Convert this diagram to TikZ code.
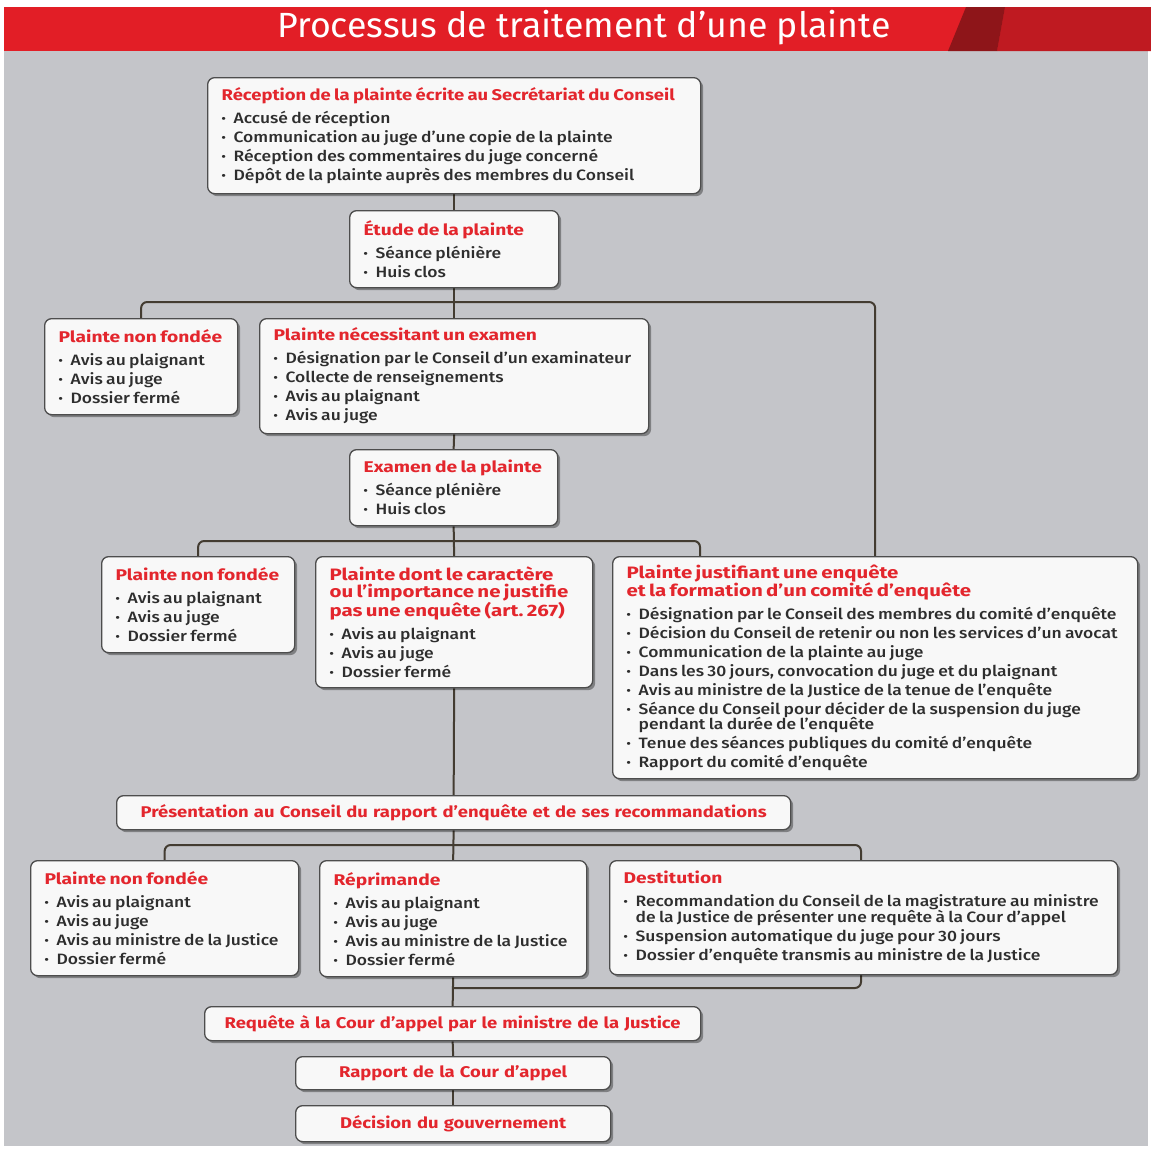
\documentclass[tikz,border=0pt]{standalone}
\usepackage{fontspec}
\setmainfont{Fira Sans}
\newfontfamily\bodyf{Fira Sans Medium}[FakeStretch=1.165]
\newfontfamily\headf{Fira Sans}[FakeStretch=1.24]
\newfontfamily\sboxf{Fira Sans}[FakeStretch=1.19]
\newfontfamily\barf{Fira Sans}[FakeStretch=1.02]
\usetikzlibrary{shadows}
\pgfdeclarelayer{bg}
\pgfdeclarelayer{lines}
\pgfsetlayers{bg,lines,main}
\definecolor{bggray}{HTML}{C4C5C9}
\definecolor{boxfill}{HTML}{F8F8F8}
\definecolor{boxborder}{HTML}{4D4D4D}
\definecolor{connc}{HTML}{433C31}
\definecolor{cred}{HTML}{E3262D}
\definecolor{ctext}{HTML}{2E2E2E}
\definecolor{barred}{HTML}{E21E26}
\definecolor{barright}{HTML}{BF1A21}
\definecolor{bardark}{HTML}{8E1519}
\newcommand{\bt}[1]{{\leftskip=3pt\fontsize{15.5}{17}\headf\bfseries\color{cred}#1\par}}
\newcommand{\bts}[1]{{\leftskip=3pt\fontsize{15.5}{17}\sboxf\bfseries\color{cred}#1\par}}
\newcommand{\btl}[1]{{\leftskip=3pt\fontsize{16.5}{17.5}\headf\bfseries\color{cred}#1\par}}
\newcommand{\its}[1]{\vspace{4pt}{\leftskip=3pt\fontsize{15}{19}\bodyf\color{ctext}#1\par}}
\newcommand{\bul}{\makebox[12pt][l]{\bfseries ·}}
\newcommand{\cnt}{\hspace*{12pt}}
\begin{document}
\begin{tikzpicture}[x=1pt,y=-1pt,
  box/.style={draw=boxborder, line width=1.3pt, fill=boxfill, rounded corners=7pt,
    drop shadow={shadow xshift=2.5pt, shadow yshift=-2.5pt, fill=black, opacity=0.35},
    anchor=north west, inner xsep=11pt, inner ysep=2pt, align=left},
  sbox/.style={box, align=center, font=\fontsize{15.5}{17}\sboxf\bfseries\color{cred}},
  conn/.style={draw=connc, line width=2pt, rounded corners=6pt}]
\useasboundingbox (0,0) rectangle (1151,1149);
\begin{pgfonlayer}{bg}
\fill[white] (0,0) rectangle (1151,1149);
\fill[bggray] (4,51) rectangle (1148,1146);
\fill[barred] (4,7) rectangle (1151,51);
\fill[barright] (1005,7) -- (1151,7) -- (1151,51) -- (997,51) -- cycle;
\fill[bardark] (966,7) -- (1005,7) -- (997,51) -- (948,51) -- cycle;
\end{pgfonlayer}
\node[text=white, font=\fontsize{35}{38}\barf] (title) at (584,28) {Processus de traitement d’une plainte};

\node[box, minimum width=493, minimum height=116, text width=471] (rec) at (207,77)
{\bts{Réception de la plainte écrite au Secrétariat du Conseil}\its{\bul Accusé de réception\\\bul Communication au juge d’une copie de la plainte\\\bul Réception des commentaires du juge concerné\\\bul Dépôt de la plainte auprès des membres du Conseil}};

\node[box, minimum width=209, minimum height=77, text width=187] (etude) at (349,210)
{\bt{Étude de la plainte}\its{\bul Séance plénière\\\bul Huis clos}};

\node[box, minimum width=193, minimum height=96, text width=171] (nf1) at (44,318)
{\bt{Plainte non fondée}\its{\bul Avis au plaignant\\\bul Avis au juge\\\bul Dossier fermé}};

\node[box, minimum width=389, minimum height=115, text width=367] (nex) at (259,318)
{\bt{Plainte nécessitant un examen}\its{\bul Désignation par le Conseil d’un examinateur\\\bul Collecte de renseignements\\\bul Avis au plaignant\\\bul Avis au juge}};

\node[box, minimum width=208, minimum height=76, text width=186] (exam) at (349,449)
{\bt{Examen de la plainte}\its{\bul Séance plénière\\\bul Huis clos}};

\node[box, minimum width=193, minimum height=96, text width=171] (nf2) at (101,556)
{\bt{Plainte non fondée}\its{\bul Avis au plaignant\\\bul Avis au juge\\\bul Dossier fermé}};

\node[box, minimum width=277, minimum height=131, text width=255] (dont) at (315,556)
{\btl{Plainte dont le caractère\\ou l’importance ne justifie\\pas une enquête (art.~267)}\its{\bul Avis au plaignant\\\bul Avis au juge\\\bul Dossier fermé}};

\node[box, minimum width=525, minimum height=222, text width=503] (just) at (612,556)
{\btl{Plainte justifiant une enquête\\et la formation d’un comité d’enquête}\its{\bul Désignation par le Conseil des membres du comité d’enquête\\\bul Décision du Conseil de retenir ou non les services d’un avocat\\\bul Communication de la plainte au juge\\\bul Dans les 30 jours, convocation du juge et du plaignant\\\bul Avis au ministre de la Justice de la tenue de l’enquête\\\bul Séance du Conseil pour décider de la suspension du juge\\[-4pt]\cnt pendant la durée de l’enquête\\\bul Tenue des séances publiques du comité d’enquête\\\bul Rapport du comité d’enquête}};

\node[sbox, minimum width=674, minimum height=34, text width=652] (pres) at (116,795)
{Présentation au Conseil du rapport d’enquête et de ses recommandations};

\node[box, minimum width=268, minimum height=115, text width=246] (nf3) at (30,860)
{\bt{Plainte non fondée}\its{\bul Avis au plaignant\\\bul Avis au juge\\\bul Avis au ministre de la Justice\\\bul Dossier fermé}};

\node[box, minimum width=267, minimum height=116, text width=245] (repr) at (319,860)
{\bt{Réprimande}\its{\bul Avis au plaignant\\\bul Avis au juge\\\bul Avis au ministre de la Justice\\\bul Dossier fermé}};

\node[box, minimum width=508, minimum height=114, text width=486] (dest) at (609,860)
{\bt{Destitution}\its{\bul Recommandation du Conseil de la magistrature au ministre\\[-3pt]\cnt de la Justice de présenter une requête à la Cour d’appel\\\bul Suspension automatique du juge pour 30 jours\\\bul Dossier d’enquête transmis au ministre de la Justice}};

\node[sbox, minimum width=496, minimum height=34, text width=474] (req) at (204,1006)
{Requête à la Cour d’appel par le ministre de la Justice};

\node[sbox, minimum width=315, minimum height=33, text width=293] (rap) at (295,1056)
{Rapport de la Cour d’appel};

\node[sbox, minimum width=315, minimum height=36, text width=293] (dec) at (295,1105)
{Décision du gouvernement};

\coordinate (j1) at (453,302);
\coordinate (j2) at (453,541);
\coordinate (j2r) at (700,556);
\coordinate (j3) at (453,845);
\coordinate (k3) at (861,916);
\coordinate (j4) at (453,988);

\begin{pgfonlayer}{lines}
\draw[conn] (rec.south) -- (etude.north);
\draw[conn] (etude.south) -- (nex.north);
\draw[conn] (nf1.north) |- (j1) -| (just.north);
\draw[conn] (nex.south) -- (exam.north);
\draw[conn] (exam.south) -- (dont.north);
\draw[conn] (nf2.north) |- (j2) -| (j2r);
\draw[conn] (dont.south) -- (pres.north);
\draw[conn] (pres.south) -- (repr.north);
\draw[conn] (nf3.north) |- (j3) -| (k3) |- (j4);
\draw[conn] (repr.south) -- (req.north);
\draw[conn] (req.south) -- (rap.north);
\draw[conn] (rap.south) -- (dec.north);
\end{pgfonlayer}
\end{tikzpicture}
\end{document}
